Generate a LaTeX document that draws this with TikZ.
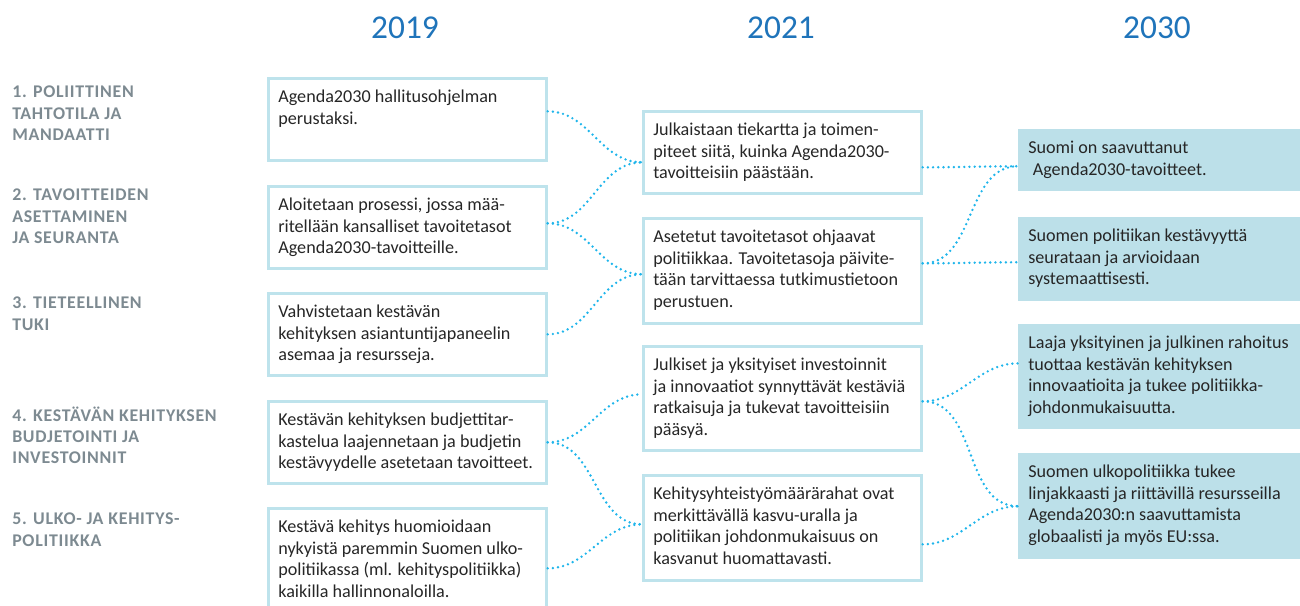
\documentclass[tikz,border=0pt]{standalone}
\usepackage{fontspec}
\setmainfont{Carlito}
\newfontfamily\themefamily[LetterSpace=4]{Carlito}
\usetikzlibrary{positioning}

\definecolor{boxline}{HTML}{BEE3EC}
\definecolor{goalfill}{HTML}{BCE0E9}
\definecolor{dotcol}{HTML}{1FB5EB}
\definecolor{yearcol}{HTML}{1F74BA}
\definecolor{themecol}{HTML}{7D8A91}
\definecolor{txtcol}{HTML}{262626}

\newcommand{\bodyfont}{\fontsize{13.6pt}{16.3pt}\selectfont}
\newcommand{\cell}[3][193.5pt]{\parbox[t][#2][t]{#1}{\strut #3}}

\tikzset{
  plan/.style={draw=boxline, line width=2pt, inner xsep=7.5pt, inner ysep=6.6pt,
    anchor=north west, font=\bodyfont, text=txtcol},
  goal/.style={fill=goalfill, inner xsep=7.5pt, inner ysep=6.6pt,
    anchor=north west, font=\bodyfont, text=txtcol},
  year/.style={font=\fontsize{25pt}{30pt}\selectfont, text=yearcol},
  theme/.style={font=\fontsize{13.4pt}{15.8pt}\selectfont\themefamily\bfseries,
    text=themecol, align=left, anchor=north west, inner sep=0pt},
  link/.style={dotcol, line width=2pt, line cap=round,
    dash pattern=on 0pt off 3.9pt, out=0, in=180},
}

\begin{document}
\begin{tikzpicture}[x=0.75pt, y=-0.75pt]
\useasboundingbox (0,0) rectangle (1300,606);
\clip (0,0) rectangle (1300,606);

% years
\node[year] (y19) at (405,28) {2019};
\node[year] (y21) at (781,28) {2021};
\node[year] (y30) at (1157,28) {2030};

% themes
\node[theme] (t1) at (12,86) {1. POLIITTINEN\\TAHTOTILA JA\\MANDAATTI};
\node[theme] (t2) at (12,189) {2. TAVOITTEIDEN\\ASETTAMINEN\\JA SEURANTA};
\node[theme] (t3) at (12,297) {3. TIETEELLINEN\\TUKI};
\node[theme] (t4) at (12,407) {4. KESTÄVÄN KEHITYKSEN\\BUDJETOINTI JA\\INVESTOINNIT};
\node[theme] (t5) at (12,513) {5. ULKO- JA KEHITYS-\\POLITIIKKA};

% 2019
\node[plan] (a1) at (267,77) {\cell{48.3pt}{Agenda2030 hallitusohjelman\\perustaksi.}};
\node[plan] (a2) at (267,185) {\cell{48.3pt}{Aloitetaan prosessi, jossa mää-\\ritellään kansalliset tavoitetasot\\Agenda2030-tavoitteille.}};
\node[plan] (a3) at (267,292) {\cell{48.3pt}{Vahvistetaan kestävän\\kehityksen asiantuntijapaneelin\\asemaa ja resursseja.}};
\node[plan] (a4) at (267,400) {\cell{48.3pt}{Kestävän kehityksen budjettitar-\\kastelua laajennetaan ja budjetin\\kestävyydelle asetetaan tavoitteet.}};
\node[plan] (a5) at (267,507) {\cell{69.3pt}{Kestävä kehitys huomioidaan\\nykyistä paremmin Suomen ulko-\\politiikassa (ml. kehityspolitiikka)\\kaikilla hallinnonaloilla.}};

% 2021
\node[plan] (b1) at (642,110) {\cell{48.3pt}{Julkaistaan tiekartta ja toimen-\\piteet siitä, kuinka Agenda2030-\\tavoitteisiin päästään.}};
\node[plan] (b2) at (642,217) {\cell{65.5pt}{Asetetut tavoitetasot ohjaavat\\politiikkaa. Tavoitetasoja päivite-\\tään tarvittaessa tutkimustietoon\\perustuen.}};
\node[plan] (b3) at (642,345) {\cell{64.8pt}{Julkiset ja yksityiset investoinnit\\ja innovaatiot synnyttävät kestäviä\\ratkaisuja ja tukevat tavoitteisiin\\pääsyä.}};
\node[plan] (b4) at (642,474) {\cell{65.5pt}{Kehitysyhteistyömäärärahat ovat\\merkittävällä kasvu-uralla ja\\politiikan johdonmukaisuus on\\kasvanut huomattavasti.}};

% 2030
\node[goal] (r1) at (1018,129) {\cell[202.5pt]{33.3pt}{Suomi on saavuttanut\\\hspace*{0.25em}Agenda2030-tavoitteet.}};
\node[goal] (r2) at (1018,217) {\cell[202.5pt]{49.8pt}{Suomen politiikan kestävyyttä\\seurataan ja arvioidaan\\systemaattisesti.}};
\node[goal] (r3) at (1018,324) {\cell[202.5pt]{65.5pt}{Laaja yksityinen ja julkinen rahoitus\\tuottaa kestävän kehityksen\\innovaatioita ja tukee politiikka-\\johdonmukaisuutta.}};
\node[goal] (r4) at (1018,453) {\cell[202.5pt]{66.3pt}{Suomen ulkopolitiikka tukee\\linjakkaasti ja riittävillä resursseilla\\Agenda2030:n saavuttamista\\globaalisti ja myös EU:ssa.}};

% links 2019 -> 2021
\draw[link] ([yshift=6pt]a1.east) to ([yshift=-7.5pt]b1.west);
\draw[link] ([yshift=3pt]a2.east) to ([yshift=-7.5pt]b1.west);
\draw[link] ([yshift=3pt]a2.east) to ([yshift=-2.6pt]b2.west);
\draw[link] (a3.east) to ([yshift=-2.6pt]b2.west);
\draw[link] (a4.east) to ([yshift=3pt]b3.west);
\draw[link] (a4.east) to ([yshift=2.6pt]b4.west);
\draw[link] ([yshift=-3.75pt]a5.east) to ([yshift=2.6pt]b4.west);

% links 2021 -> 2030
\draw[link] ([yshift=-11.25pt]b1.east) to ([yshift=-4.5pt]r1.west);
\draw[link] ([yshift=5.6pt]b2.east) to ([yshift=-4.5pt]r1.west);
\draw[link] ([yshift=5.6pt]b2.east) to ([yshift=-2.25pt]r2.west);
\draw[link] ([yshift=-2.25pt]b3.east) to ([yshift=10pt]r3.west);
\draw[link] ([yshift=-2.25pt]b3.east) to (r4.west);
\draw[link] ([yshift=-12.4pt]b4.east) to (r4.west);
\end{tikzpicture}
\end{document}
